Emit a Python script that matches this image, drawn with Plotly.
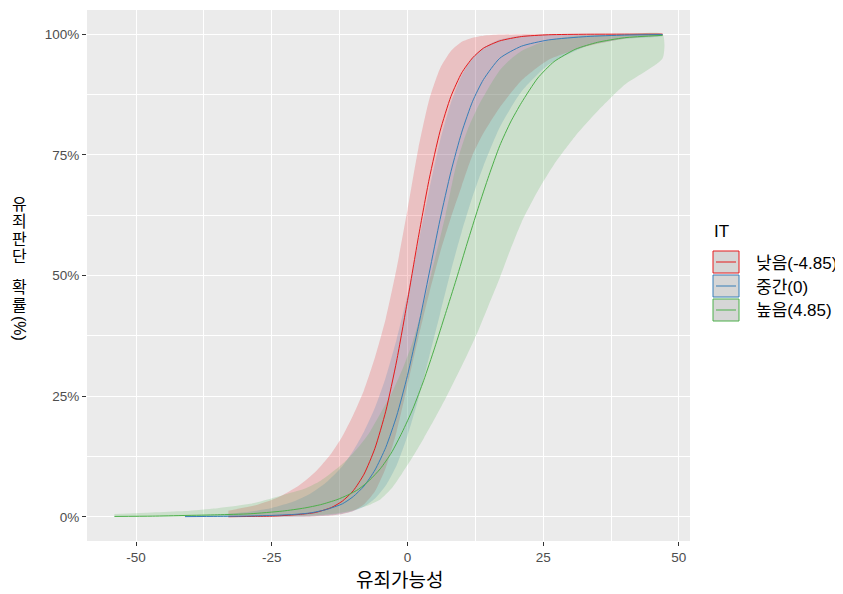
import plotly.graph_objects as go

# ---------------- data ----------------
it_labels = ["낮음(-4.85)", "중간(0)", "높음(4.85)"]
line_colors = ["#E41A1C", "#377EB8", "#4DAF4A"]
fill_colors = ["rgba(228,26,28,0.2)", "rgba(55,126,184,0.2)", "rgba(77,175,74,0.2)"]

red_x = [-33, -28, -24, -20, -17, -14, -12, -10, -8, -6, -4, -2, 0, 2, 4, 6, 8, 10, 12, 14, 17, 21, 26, 33, 40, 47]
red_y = [0.0003, 0.001, 0.002, 0.005, 0.009, 0.0195, 0.0326, 0.054, 0.0886, 0.142, 0.219, 0.323, 0.448, 0.579,
         0.700, 0.799, 0.871, 0.920, 0.951, 0.971, 0.986, 0.995, 0.9987, 0.9998, 1.0, 1.0]
red_hi = [0.0129, 0.0239, 0.0395, 0.065, 0.093, 0.132, 0.167, 0.211, 0.263, 0.330, 0.411, 0.515, 0.636, 0.763,
          0.864, 0.929, 0.965, 0.984, 0.9925, 0.9966, 0.999, 1.0, 1.0, 1.0, 1.0, 1.0]
red_lo = [0.0, 0.0, 0.0001, 0.0002, 0.0008, 0.0026, 0.0057, 0.012, 0.026, 0.053, 0.102, 0.177, 0.273, 0.371,
          0.463, 0.547, 0.620, 0.686, 0.750, 0.795, 0.848, 0.904, 0.947, 0.975, 0.9907, 0.9975]

blue_x = [-41, -35, -30, -25, -21, -18, -15, -12, -10, -8, -6, -4, -2, 0, 2, 4, 6, 8, 10, 12, 14, 17, 21, 26, 33, 40, 47]
blue_y = [0.0005, 0.001, 0.0015, 0.003, 0.005, 0.008, 0.015, 0.027, 0.042, 0.064, 0.097, 0.144, 0.209, 0.293,
          0.394, 0.505, 0.616, 0.715, 0.797, 0.861, 0.906, 0.950, 0.975, 0.988, 0.995, 0.998, 0.999]
blue_hi = [0.0021, 0.0047, 0.0093, 0.0185, 0.0317, 0.0474, 0.071, 0.105, 0.137, 0.177, 0.226, 0.289, 0.368, 0.460,
           0.567, 0.677, 0.779, 0.858, 0.915, 0.951, 0.972, 0.9887, 0.9967, 0.9993, 1.0, 1.0, 1.0]
blue_lo = [0.0, 0.0, 0.0, 0.0001, 0.0004, 0.001, 0.0027, 0.0066, 0.0119, 0.0215, 0.038, 0.065, 0.107, 0.168,
           0.244, 0.332, 0.421, 0.510, 0.591, 0.664, 0.727, 0.807, 0.881, 0.937, 0.975, 0.9903, 0.9963]

green_x = [-54, -47, -41, -35, -29, -23, -19, -16, -13, -11, -9, -7, -5, -3, -1, 1, 3, 5, 7, 9, 11, 13, 15, 17,
           19, 21, 24, 27, 31, 35, 40, 47]
green_y = [0.0009, 0.0015, 0.0029, 0.0043, 0.0064, 0.012, 0.0183, 0.0253, 0.0356, 0.0452, 0.0573, 0.0759, 0.0998,
           0.132, 0.175, 0.224, 0.283, 0.350, 0.421, 0.4925, 0.567, 0.639, 0.707, 0.769, 0.818, 0.858, 0.909, 0.943,
           0.969, 0.983, 0.9926, 0.9975]
green_hi = [0.006, 0.009, 0.012, 0.018, 0.027, 0.045, 0.058, 0.075, 0.1, 0.12, 0.145, 0.175, 0.214, 0.254, 0.304,
            0.364, 0.443, 0.532, 0.625, 0.73, 0.80, 0.85, 0.89, 0.925, 0.948, 0.965, 0.98, 0.99, 0.9963, 0.9984,
            0.9995, 0.9999]
green_lo = [0.0, 0.0, 0.0001, 0.0002, 0.0005, 0.0012, 0.0025, 0.004, 0.007, 0.011, 0.017, 0.025, 0.036, 0.058, 0.09,
            0.125, 0.163, 0.203, 0.245, 0.29, 0.336, 0.385, 0.44, 0.495, 0.555, 0.61, 0.675, 0.73, 0.79, 0.84,
            0.895, 0.95]

x_ticks = [-50, -25, 0, 25, 50]
y_ticks = [0, 0.25, 0.5, 0.75, 1.0]
y_ticklabels = ["0%", "25%", "50%", "75%", "100%"]
x_title = "유죄가능성"
y_title_chars = ["유", "죄", "판", "단", "확", "률"]
y_title_tail = "(%)"
legend_title = "IT"

series = [
    (red_x, red_y, red_lo, red_hi),
    (blue_x, blue_y, blue_lo, blue_hi),
    (green_x, green_y, green_lo, green_hi),
]

FONT = "Liberation Sans, Arial, Noto Sans CJK KR, sans-serif"

fig = go.Figure()

# ribbons
for (xs, ys, lo, hi), fc in zip(series, fill_colors):
    fig.add_trace(go.Scatter(
        x=list(xs) + list(xs)[::-1],
        y=list(hi) + list(lo)[::-1],
        fill="toself", fillcolor=fc, mode="lines",
        line=dict(width=0, shape="spline", smoothing=0.6),
        hoverinfo="skip", showlegend=False,
    ))

# lines
for (xs, ys, lo, hi), lc, name in zip(series, line_colors, it_labels):
    fig.add_trace(go.Scatter(
        x=xs, y=ys, mode="lines", name=name,
        line=dict(color=lc, width=1, shape="spline", smoothing=0.6),
        showlegend=False,
    ))

# page offset of the plot div (browser body margin)
OFF = 8
W, H = 843 - OFF, 594 - OFF
# target plot geometry in page pixels
PL, PR, PT, PB = 87, 690, 10, 541
L, R, T, B = PL - OFF, PR - OFF, PT - OFF, PB - OFF
pw, ph = R - L, B - T


def px(xp):  # page pixel -> paper x
    return (xp - PL) / pw


def py(yp):  # page pixel -> paper y
    return (PB - yp) / ph


shapes = []
annotations = []

# manual legend (ggplot style)
annotations.append(dict(x=px(712), y=py(231), xref="paper", yref="paper", text=legend_title, showarrow=False,
                        xanchor="left", yanchor="middle", font=dict(size=17, color="black", family=FONT)))
key_tops = [251, 275, 299]
for top, lc, name in zip(key_tops, line_colors, it_labels):
    shapes.append(dict(type="rect", xref="paper", yref="paper",
                       x0=px(713), x1=px(739), y0=py(top), y1=py(top + 22),
                       fillcolor="#D6D6D6", line=dict(color=lc, width=1)))
    shapes.append(dict(type="line", xref="paper", yref="paper",
                       x0=px(716), x1=px(736), y0=py(top + 11), y1=py(top + 11),
                       line=dict(color=lc, width=1)))
    annotations.append(dict(x=px(754), y=py(top + 12), xref="paper", yref="paper", text=name, showarrow=False,
                            xanchor="left", yanchor="middle", font=dict(size=17, color="black", family=FONT)))

# y-axis title (stacked, upright Korean characters, like the reference)
char_centers = [205, 222, 239.5, 257, 287.5, 305]
for ch, yc in zip(y_title_chars, char_centers):
    annotations.append(dict(x=px(19), y=py(yc), xref="paper", yref="paper", text=ch,
                            showarrow=False, xanchor="center", yanchor="middle",
                            font=dict(size=16, color="black", family=FONT)))
annotations.append(dict(x=px(20), y=py(328), xref="paper", yref="paper", text=y_title_tail, textangle=90,
                        showarrow=False, xanchor="center", yanchor="middle",
                        font=dict(size=16, color="black", family=FONT)))

# x-axis title
annotations.append(dict(x=px(399), y=py(580), xref="paper", yref="paper", text=x_title,
                        showarrow=False, xanchor="center", yanchor="middle",
                        font=dict(size=19, color="black", family=FONT)))

fig.update_layout(
    width=W, height=H,
    margin=dict(l=L, r=W - R, t=T, b=H - B, pad=0),
    paper_bgcolor="white", plot_bgcolor="#EBEBEB",
    font=dict(family=FONT),
    shapes=shapes, annotations=annotations,
    showlegend=False,
)
fig.update_xaxes(
    range=[-59.05, 52.05], tickvals=x_ticks, ticktext=[str(v) for v in x_ticks],
    showgrid=True, gridcolor="white", gridwidth=1.4, zeroline=False,
    minor=dict(dtick=12.5, tick0=0, showgrid=True, gridcolor="white", gridwidth=0.7, ticks=""),
    ticks="outside", ticklen=4, tickcolor="#333333", tickwidth=1,
    tickfont=dict(size=13.5, color="#4D4D4D", family=FONT),
    showline=False,
)
fig.update_yaxes(
    range=[-0.05, 1.05], tickvals=y_ticks, ticktext=y_ticklabels,
    showgrid=True, gridcolor="white", gridwidth=1.4, zeroline=False,
    minor=dict(dtick=0.125, tick0=0, showgrid=True, gridcolor="white", gridwidth=0.7, ticks=""),
    ticks="outside", ticklen=4, tickcolor="#333333", tickwidth=1,
    tickfont=dict(size=13.5, color="#4D4D4D", family=FONT),
    showline=False,
)

fig.write_html("out.html")
